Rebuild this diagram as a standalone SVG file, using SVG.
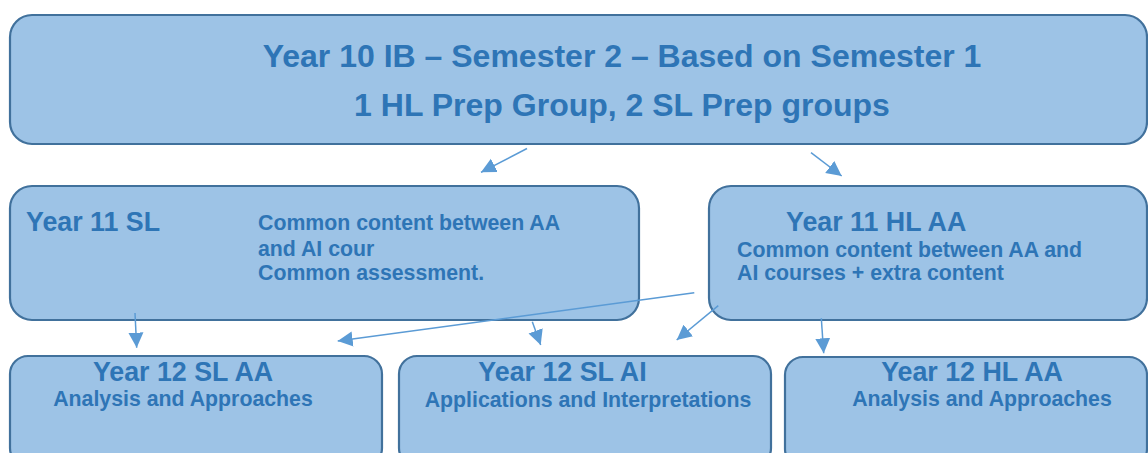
<svg xmlns="http://www.w3.org/2000/svg" width="1148" height="453" viewBox="0 0 1148 453">
<style>
.box{fill:#9DC3E6;stroke:#41719C;stroke-width:2.2}
text{font-family:"Liberation Sans",Arial,sans-serif;font-weight:bold;fill:#2E75B6}
.t32{font-size:32px}
.t26{font-size:26.8px}
.t21{font-size:21.3px}
.conn line{stroke:#5B9BD5;stroke-width:1.5}
</style>
<defs>
<marker id="ah" viewBox="0 0 10 10" refX="10" refY="5" markerWidth="15" markerHeight="16" markerUnits="userSpaceOnUse" orient="auto">
<path d="M0,0 L10,5 L0,10 z" fill="#5B9BD5"/>
</marker>
</defs>
<rect width="1148" height="453" fill="#ffffff"/>
<g id="year10">
<rect class="box" x="10" y="15" width="1137" height="129" rx="22" ry="22"/>
<text class="t32" x="622" y="67" text-anchor="middle">Year 10 IB – Semester 2 – Based on Semester 1</text>
<text class="t32" x="622" y="116" text-anchor="middle">1 HL Prep Group, 2 SL Prep groups</text>
</g>
<g id="year11sl">
<rect class="box" x="10" y="186" width="629" height="134" rx="22" ry="22"/>
<text class="t26" x="26" y="231">Year 11 SL</text>
<text class="t21" x="258" y="230">Common content between AA</text>
<text class="t21" x="258" y="255.5">and AI cour</text>
<text class="t21" x="258" y="280">Common assessment.</text>
</g>
<g id="year11hl">
<rect class="box" x="709" y="186" width="438" height="134" rx="22" ry="22"/>
<text class="t26" x="786" y="230.5">Year 11 HL AA</text>
<text class="t21" x="737" y="256.5">Common content between AA and</text>
<text class="t21" x="737" y="280">AI courses + extra content</text>
</g>
<g id="year12slaa">
<rect class="box" x="10" y="356" width="372" height="110" rx="18" ry="18"/>
<text class="t26" x="183" y="380.5" text-anchor="middle">Year 12 SL AA</text>
<text class="t21" x="183" y="406" text-anchor="middle">Analysis and Approaches</text>
</g>
<g id="year12slai">
<rect class="box" x="399" y="356" width="372" height="110" rx="18" ry="18"/>
<text class="t26" x="562.5" y="380.5" text-anchor="middle">Year 12 SL AI</text>
<text class="t21" x="588" y="406.5" text-anchor="middle">Applications and Interpretations</text>
</g>
<g id="year12hlaa">
<rect class="box" x="785" y="357" width="362" height="110" rx="18" ry="18"/>
<text class="t26" x="972" y="380.5" text-anchor="middle">Year 12 HL AA</text>
<text class="t21" x="982" y="406" text-anchor="middle">Analysis and Approaches</text>
</g>
<g id="connectors" class="conn">
<line x1="527" y1="148.5" x2="481" y2="172.3" marker-end="url(#ah)"/>
<line x1="811" y1="152.7" x2="841.7" y2="176" marker-end="url(#ah)"/>
<line x1="135" y1="313" x2="136.7" y2="347.7" marker-end="url(#ah)"/>
<line x1="694.3" y1="292.7" x2="337.7" y2="341" marker-end="url(#ah)"/>
<line x1="532.3" y1="321.7" x2="540.7" y2="345" marker-end="url(#ah)"/>
<line x1="718.3" y1="305.7" x2="676.7" y2="340" marker-end="url(#ah)"/>
<line x1="821.3" y1="318.3" x2="823.7" y2="353.3" marker-end="url(#ah)"/>
</g>
</svg>
